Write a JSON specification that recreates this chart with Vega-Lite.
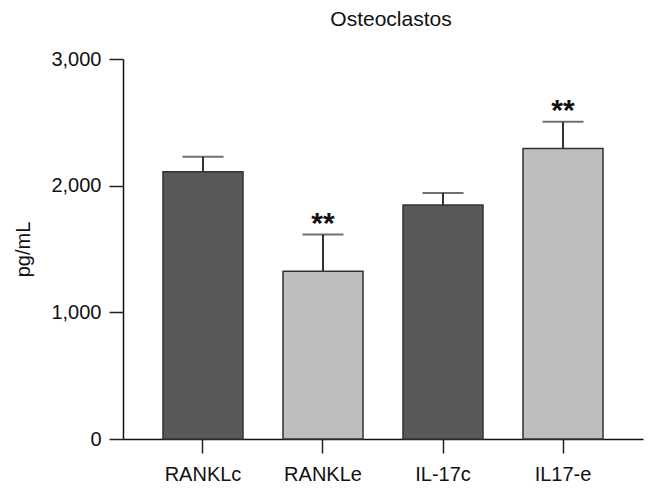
{
  "$schema": "https://vega.github.io/schema/vega-lite/v6.json",
  "width": 520,
  "height": 380,
  "autosize": "none",
  "padding": {"left": 123, "top": 59, "right": 11, "bottom": 53},
  "background": "white",
  "title": {"text": "Osteoclastos", "fontSize": 21, "font": "Liberation Sans", "fontWeight": "normal", "color": "#111", "offset": 19, "dx": 8},
  "config": {"view": {"stroke": null}, "font": "Liberation Sans"},
  "data": {"values": [
    {"group": "RANKLc", "value": 2110, "upper": 2228, "kind": "c", "sig": ""},
    {"group": "RANKLe", "value": 1325, "upper": 1614, "kind": "e", "sig": "**"},
    {"group": "IL-17c", "value": 1848, "upper": 1943, "kind": "c", "sig": ""},
    {"group": "IL17-e", "value": 2294, "upper": 2504, "kind": "e", "sig": "**"}
  ]},
  "encoding": {
    "x": {"field": "group", "type": "nominal", "sort": null,
      "scale": {"paddingInner": 0.3333, "paddingOuter": 0.3333},
      "axis": {"title": null, "labelAngle": 0, "labelFontSize": 20, "labelColor": "#111", "labelPadding": 11, "tickSize": 14, "tickColor": "#222", "tickWidth": 1.5, "domainColor": "#111", "domainWidth": 1.5}}
  },
  "layer": [
    {
      "mark": {"type": "bar", "stroke": "#333", "strokeWidth": 1.5},
      "encoding": {
        "y": {"field": "value", "type": "quantitative",
          "scale": {"domain": [0, 3000], "nice": false},
          "axis": {"title": "pg/mL", "titleFontSize": 20, "titleFontWeight": "normal", "titleColor": "#111", "titlePadding": 17, "values": [0, 1000, 2000, 3000], "format": ",.0f", "labelFontSize": 20, "labelColor": "#111", "labelPadding": 8, "tickSize": 14, "tickColor": "#222", "tickWidth": 1.5, "domainColor": "#111", "domainWidth": 1.5, "grid": false}},
        "color": {"field": "kind", "type": "nominal", "scale": {"domain": ["c", "e"], "range": ["#58595b", "#bcbec0"]}, "legend": null}
      }
    },
    {
      "mark": {"type": "rule", "color": "#333", "strokeWidth": 2},
      "encoding": {"y": {"field": "value", "type": "quantitative"}, "y2": {"field": "upper"}}
    },
    {
      "mark": {"type": "tick", "color": "#333", "thickness": 2, "size": 41, "orient": "horizontal"},
      "encoding": {"y": {"field": "upper", "type": "quantitative"}}
    },
    {
      "mark": {"type": "text", "fontSize": 30, "fontWeight": "bold", "color": "#111", "baseline": "alphabetic", "dy": -2},
      "encoding": {"y": {"field": "upper", "type": "quantitative"}, "text": {"field": "sig"}}
    }
  ]
}
